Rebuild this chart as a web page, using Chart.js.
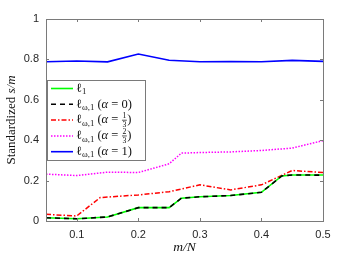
<!DOCTYPE html>
<html>
<head>
<meta charset="utf-8">
<script src="https://cdn.jsdelivr.net/npm/chart.js@4"></script>
<style>
  html, body { margin: 0; padding: 0; background: #fff; }
</style>
</head>
<body>
<canvas id="myChart" width="357" height="258"></canvas>
<script>
// values
const xTicks = [0.1, 0.2, 0.3, 0.4, 0.5];
const yTicks = [0, 0.2, 0.4, 0.6, 0.8, 1];

const xL1 = [0.05, 0.1, 0.15, 0.2, 0.25, 0.27, 0.3, 0.35, 0.4, 0.433, 0.45, 0.5];
const yL1 = [0.016, 0.011, 0.02, 0.066, 0.066, 0.113, 0.12, 0.126, 0.142, 0.223, 0.228, 0.228];
const yA0 = [0.016, 0.011, 0.02, 0.066, 0.066, 0.113, 0.12, 0.126, 0.142, 0.223, 0.228, 0.227];

const xA13 = [0.05, 0.1, 0.138, 0.2, 0.25, 0.3, 0.35, 0.4, 0.45, 0.5];
const yA13 = [0.033, 0.025, 0.116, 0.129, 0.145, 0.179, 0.154, 0.179, 0.25, 0.24];

const xA23 = [0.05, 0.1, 0.15, 0.2, 0.25, 0.27, 0.3, 0.35, 0.4, 0.45, 0.5];
const yA23 = [0.232, 0.225, 0.242, 0.24, 0.283, 0.336, 0.339, 0.342, 0.349, 0.361, 0.398];

const xA1 = [0.05, 0.1, 0.15, 0.2, 0.25, 0.3, 0.35, 0.4, 0.45, 0.5];
const yA1 = [0.788, 0.792, 0.788, 0.827, 0.796, 0.788, 0.789, 0.788, 0.795, 0.79];

const pts = (xs, ys) => xs.map((x, i) => ({ x: x, y: ys[i] }));

const SERIF = '"Liberation Serif", "DejaVu Serif", serif';
const AXIS = '#7a7a7a';

// legend rows: pieces of text, sub = subscript, it = italic, frac = stacked fraction
const legendRows = [
  [{ t: 'ℓ' }, { t: '1', sub: true }],
  [{ t: 'ℓ' }, { t: 'ω,1', sub: true }, { t: ' (' }, { t: 'α', it: true }, { t: ' = 0)' }],
  [{ t: 'ℓ' }, { t: 'ω,1', sub: true }, { t: ' (' }, { t: 'α', it: true }, { t: ' = ' }, { frac: ['1', '3'] }, { t: ')' }],
  [{ t: 'ℓ' }, { t: 'ω,1', sub: true }, { t: ' (' }, { t: 'α', it: true }, { t: ' = ' }, { frac: ['2', '3'] }, { t: ')' }],
  [{ t: 'ℓ' }, { t: 'ω,1', sub: true }, { t: ' (' }, { t: 'α', it: true }, { t: ' = 1)' }]
];

function drawRich(ctx, x, y, parts, size) {
  ctx.textBaseline = 'middle';
  ctx.textAlign = 'left';
  for (const p of parts) {
    if (p.frac) {
      ctx.font = (size * 0.62) + 'px ' + SERIF;
      const w = Math.max(ctx.measureText(p.frac[0]).width, ctx.measureText(p.frac[1]).width);
      ctx.textAlign = 'center';
      ctx.fillText(p.frac[0], x + w / 2 + 1, y - size * 0.32);
      ctx.fillText(p.frac[1], x + w / 2 + 1, y + size * 0.38);
      ctx.fillRect(x + 0.5, y - 0.3, w + 1, 0.7);
      ctx.textAlign = 'left';
      x += w + 2;
      continue;
    }
    ctx.font = (p.it ? 'italic ' : '') + (p.sub ? size * 0.7 : size) + 'px ' + SERIF;
    ctx.fillText(p.t, x, y + (p.sub ? size * 0.28 : 0));
    x += ctx.measureText(p.t).width;
  }
  return x;
}

const framePlugin = {
  id: 'frame',
  afterDatasetsDraw(chart) {
    const ctx = chart.ctx;
    const a = chart.chartArea;
    const xs = chart.scales.x, ys = chart.scales.y;
    ctx.save();
    // box
    ctx.strokeStyle = AXIS;
    ctx.lineWidth = 1;
    ctx.setLineDash([]);
    ctx.strokeRect(Math.round(a.left) + 0.5, Math.round(a.top) + 0.5,
      Math.round(a.right - a.left), Math.round(a.bottom - a.top));
    // inward ticks on all sides
    const tl = 3;
    ctx.beginPath();
    xTicks.forEach(v => {
      const px = Math.round(xs.getPixelForValue(v)) + 0.5;
      ctx.moveTo(px, a.bottom); ctx.lineTo(px, a.bottom - tl);
      ctx.moveTo(px, a.top); ctx.lineTo(px, a.top + tl);
    });
    yTicks.forEach(v => {
      const py = Math.round(ys.getPixelForValue(v)) + 0.5;
      ctx.moveTo(a.left, py); ctx.lineTo(a.left + tl, py);
      ctx.moveTo(a.right, py); ctx.lineTo(a.right - tl, py);
    });
    ctx.stroke();

    // legend
    const lx = 47, ly = 80, lw = 98, lh = 80;
    ctx.fillStyle = '#fff';
    ctx.fillRect(lx, ly, lw, lh);
    ctx.strokeStyle = AXIS;
    ctx.strokeRect(lx + 0.5, ly + 0.5, lw, lh);
    chart.data.datasets.forEach((ds, i) => {
      const ry = ly + 8.5 + i * 15.8;
      ctx.strokeStyle = ds.borderColor;
      ctx.lineWidth = ds.borderWidth;
      ctx.setLineDash(ds.borderDash || []);
      ctx.beginPath();
      ctx.moveTo(51, ry); ctx.lineTo(73, ry);
      ctx.stroke();
      ctx.setLineDash([]);
      ctx.fillStyle = '#111';
      drawRich(ctx, 76, ry, legendRows[i], 12.5);
    });

    // axis titles
    ctx.fillStyle = '#111';
    ctx.textBaseline = 'middle';
    ctx.font = 'italic 13.5px ' + SERIF;
    ctx.textAlign = 'center';
    ctx.fillText('m/N', (a.left + a.right) / 2, 247);

    ctx.translate(12, (a.top + a.bottom) / 2);
    ctx.rotate(-Math.PI / 2);
    ctx.font = '13px ' + SERIF;
    const w1 = ctx.measureText('Standardized ').width;
    ctx.font = 'italic 13px ' + SERIF;
    const w2 = ctx.measureText('s/m').width;
    ctx.textAlign = 'left';
    ctx.font = '13px ' + SERIF;
    ctx.fillText('Standardized ', -(w1 + w2) / 2, 0);
    ctx.font = 'italic 13px ' + SERIF;
    ctx.fillText('s/m', -(w1 + w2) / 2 + w1, 0);
    ctx.restore();
  }
};

const tickFont = { family: '"Liberation Sans", Arial, sans-serif', size: 11 };

const config = {
  type: 'line',
  data: {
    datasets: [
      { label: 'l1', data: pts(xL1, yL1), borderColor: '#00ff00', borderWidth: 1.6, order: 2 },
      { label: 'a0', data: pts(xL1, yA0), borderColor: '#000000', borderWidth: 1.6, borderDash: [5, 4], order: 1 },
      { label: 'a13', data: pts(xA13, yA13), borderColor: '#ff0000', borderWidth: 1.5, borderDash: [5, 2, 1.5, 2], order: 3 },
      { label: 'a23', data: pts(xA23, yA23), borderColor: '#ff00ff', borderWidth: 1.5, borderDash: [1.5, 1.5], order: 4 },
      { label: 'a1', data: pts(xA1, yA1), borderColor: '#0000ff', borderWidth: 1.6, order: 5 }
    ]
  },
  options: {
    responsive: false,
    devicePixelRatio: 1,
    animation: false,
    elements: { point: { radius: 0 }, line: { tension: 0, fill: false } },
    layout: { padding: { left: 0, right: 34, top: 19, bottom: 0 } },
    scales: {
      x: {
        type: 'linear', min: 0.05, max: 0.5,
        afterBuildTicks: s => { s.ticks = xTicks.map(v => ({ value: v })); },
        afterFit: s => { s.height = 37; },
        grid: { display: false, drawTicks: false },
        border: { display: false },
        ticks: { padding: 7, color: '#262626', font: tickFont, callback: v => String(v) }
      },
      y: {
        type: 'linear', min: 0, max: 1,
        afterBuildTicks: s => { s.ticks = yTicks.map(v => ({ value: v })); },
        afterFit: s => { s.width = 46; },
        grid: { display: false, drawTicks: false },
        border: { display: false },
        ticks: { padding: 7, color: '#262626', font: tickFont, callback: v => String(v) }
      }
    },
    plugins: { legend: { display: false }, tooltip: { enabled: false } }
  },
  plugins: [framePlugin]
};

const ctx = document.getElementById('myChart').getContext('2d');
const chart = new Chart(ctx, config);
</script>
</body>
</html>
